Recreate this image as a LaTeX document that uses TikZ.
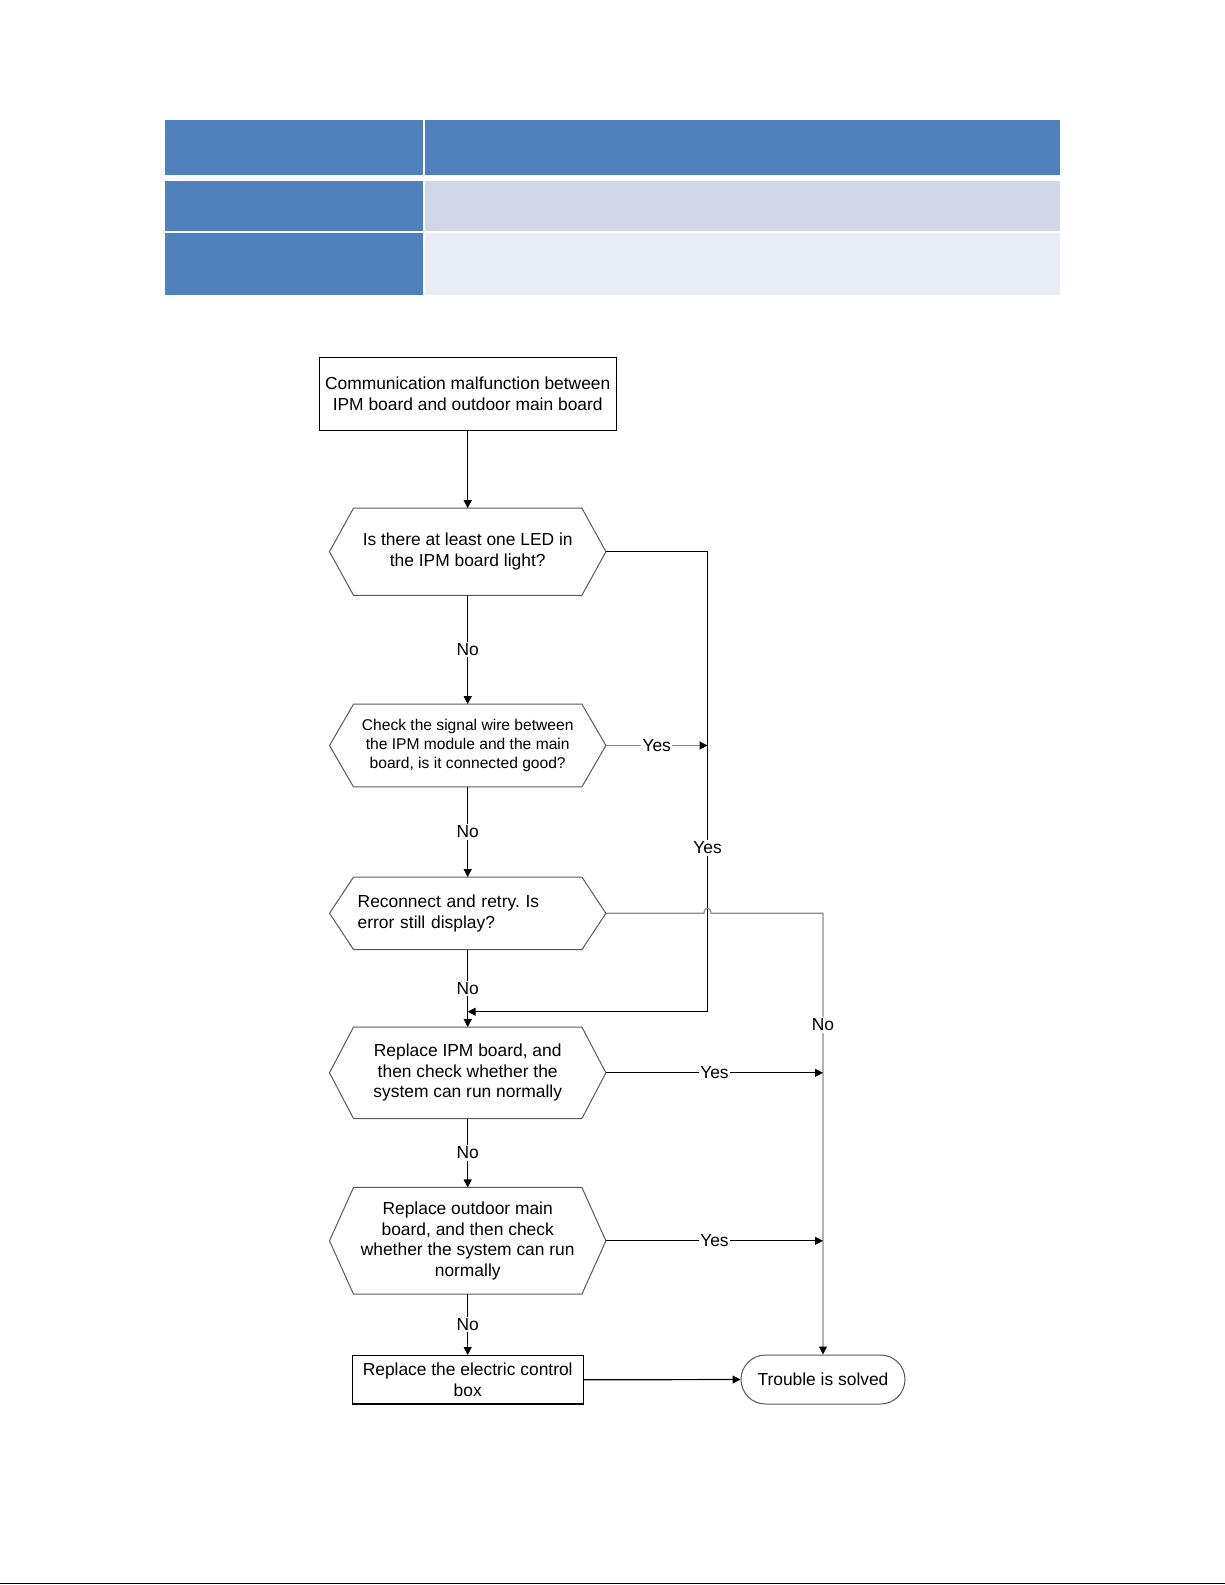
\documentclass[tikz,border=0pt]{standalone}
\usepackage{fontspec}
\setmainfont{Liberation Sans}
\usetikzlibrary{arrows.meta,shapes.misc}
\definecolor{hdrblue}{HTML}{4F81BD}
\definecolor{rowa}{HTML}{D0D8E8}
\definecolor{rowb}{HTML}{E9EDF4}
\definecolor{conngray}{HTML}{8C8C8C}
\newcommand\hexa[1]{\draw[hexline] (#1.west) -- ([xshift=24pt]#1.north west) -- ([xshift=-24pt]#1.north east) -- (#1.east) -- ([xshift=-24pt]#1.south east) -- ([xshift=24pt]#1.south west) -- cycle;}
\frenchspacing
\begin{document}
\begin{tikzpicture}[x=1pt,y=-1pt,
  txt/.style={font=\fontsize{17.4}{20.5}\selectfont, align=center},
  hexnode/.style={txt, inner sep=0pt, minimum width=276pt},
  hexline/.style={draw=black!65, line width=1pt},
  boxnode/.style={txt, draw=black, line width=1.3pt, inner sep=0pt},
  arr/.style={line width=1.2pt, -{Triangle[length=8pt,width=8pt]}},
  garr/.style={draw=conngray, line width=1.2pt, -{Triangle[length=8pt,width=8pt,color=black]}},
  lbl/.style={font=\fontsize{17.4}{20.5}\selectfont, fill=white, inner sep=1.5pt},
]
\useasboundingbox (0,0) rectangle (1225,1585);
% table
\fill[hdrblue] (165,120) rectangle (423,175);
\fill[hdrblue] (425,120) rectangle (1059.5,175);
\fill[hdrblue] (165,181) rectangle (423,231);
\fill[rowa] (425,181) rectangle (1059.5,231);
\fill[hdrblue] (165,233) rectangle (423,295);
\fill[rowb] (425,233) rectangle (1059.5,295);
% nodes
\node[boxnode, minimum width=297pt, minimum height=73.5pt] (b1) at (467.7,394) {Communication malfunction between\\IPM board and outdoor main board};
\node[hexnode, minimum height=86.7pt] (h1) at (467.7,551.7) {Is there at least one LED in\\the IPM board light?};
\node[hexnode, minimum height=82.4pt, font=\fontsize{15.6}{19}\selectfont] (h2) at (467.7,745.5) {Check the signal wire between\\the IPM module and the main\\board, is it connected good?};
\node[hexnode, minimum height=72pt, text width=220pt, align=left] (h3) at (467.7,913.3) {Reconnect and retry. Is\\error still display?};
\node[hexnode, minimum height=91pt] (h4) at (467.7,1072.8) {Replace IPM board, and\\then check whether the\\system can run normally};
\node[hexnode, minimum height=106.3pt] (h5) at (467.7,1240.8) {Replace outdoor main\\board, and then check\\whether the system can run\\normally};
\node[boxnode, minimum width=231pt, minimum height=48.3pt] (fb) at (467.7,1379.8) {Replace the electric control\\box};
\node[txt, draw=black!65, line width=1pt, rounded rectangle, minimum width=164pt, minimum height=49pt, inner sep=0pt] (tr) at (823,1379.5) {Trouble is solved};
\hexa{h1}
\hexa{h2}
\hexa{h3}
\hexa{h4}
\hexa{h5}
% coordinates
\coordinate (ytop) at (707.5,551.7);
\coordinate (ybot) at (707.5,1011.7);
\coordinate (yend) at (467.7,1011.7);
\coordinate (nright) at (823,913.3);
% connectors
\draw[arr] (b1.south) -- (h1.north);
\draw[arr] (h1.south) -- node[lbl]{No} (h2.north);
\draw[arr] (h2.south) -- node[lbl]{No} (h3.north);
\draw[arr] (h3.south) -- node[lbl]{No} (h4.north);
\draw[arr] (h4.south) -- node[lbl]{No} (h5.north);
\draw[arr] (h5.south) -- node[lbl]{No} (fb.north);
\draw[arr] (h1.east) -- (ytop) -- node[lbl,pos=0.644]{Yes} (ybot) -- (yend);
\draw[garr] (h2.east) -- node[lbl]{Yes} (h2.east -| ytop);
\draw[garr] (h3.east) -- (704,913.3) .. controls (704,906.5) and (711,906.5) .. (711,913.3) -- (nright) -- node[lbl,pos=0.253]{No} (tr.north);
\draw[arr] (h4.east) -- node[lbl]{Yes} (h4.east -| nright);
\draw[arr] (h5.east) -- node[lbl]{Yes} (h5.east -| nright);
\draw[arr] (fb.east) -- (tr.west);
% page rule
\draw[line width=1.5pt] (0,1583.5) -- (1225,1583.5);
\end{tikzpicture}
\end{document}
